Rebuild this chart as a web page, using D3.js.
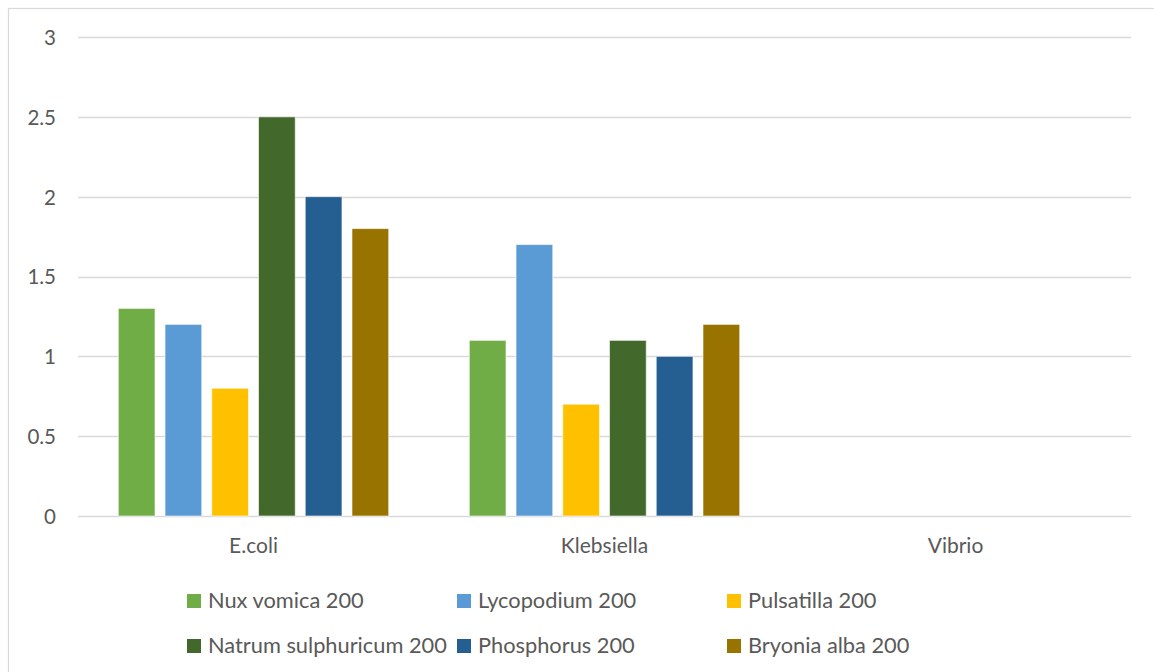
<!DOCTYPE html>
<html>
<head>
<meta charset="utf-8">
<script src="https://cdn.jsdelivr.net/npm/d3@7"></script>
<style>
  html, body { margin: 0; padding: 0; background: #fff; }
  svg { display: block; }
  text { font-family: Lato, "Open Sans", sans-serif; fill: #595959; }
</style>
</head>
<body>
<script>
// Bacterial strains on the x axis
const categories = ["E.coli", "Klebsiella", "Vibrio"];

// Remedies (one bar per remedy in each strain group)
const seriesNames = [
  "Nux vomica 200",
  "Lycopodium 200",
  "Pulsatilla 200",
  "Natrum sulphuricum 200",
  "Phosphorus 200",
  "Bryonia alba 200"
];

// Values per remedy, in category order
const nuxVomica   = [1.3, 1.1, 0];
const lycopodium  = [1.2, 1.7, 0];
const pulsatilla  = [0.8, 0.7, 0];
const natrumSulph = [2.5, 1.1, 0];
const phosphorus  = [2.0, 1.0, 0];
const bryonia     = [1.8, 1.2, 0];

const yTicks = [0, 0.5, 1, 1.5, 2, 2.5, 3];

const seriesValues = [nuxVomica, lycopodium, pulsatilla, natrumSulph, phosphorus, bryonia];
const colors = ["#70AD47", "#5B9BD5", "#FFC000", "#43682B", "#255E91", "#997300"];

const W = 1154, H = 672;
const plot = { left: 78, right: 1131, top: 37, bottom: 516 };

const svg = d3.select("body").append("svg")
  .attr("width", W).attr("height", H);

// Chart frame
svg.append("rect")
  .attr("x", 8.5).attr("y", 8.5)
  .attr("width", W).attr("height", H)
  .attr("fill", "none").attr("stroke", "#D9D9D9").attr("stroke-width", 1.2);

const x0 = d3.scaleBand().domain(categories)
  .range([plot.left, plot.right]).padding(0);

const x1 = d3.scaleBand().domain(seriesNames)
  .range([0, x0.bandwidth()])
  .paddingInner(0.214).paddingOuter(0.862);

const y = d3.scaleLinear().domain([0, 3]).range([plot.bottom, plot.top]);

// Horizontal gridlines
svg.append("g").selectAll("line").data(yTicks).join("line")
  .attr("x1", plot.left).attr("x2", plot.right)
  .attr("y1", d => Math.round(y(d)) + 0.5).attr("y2", d => Math.round(y(d)) + 0.5)
  .attr("stroke", "#D9D9D9").attr("stroke-width", d => d === 0 ? 1.6 : 1.4);

// Y axis labels
const yAxis = d3.axisLeft(y).tickValues(yTicks).tickSize(0).tickPadding(0)
  .tickFormat(d3.format("~g"));
const gy = svg.append("g").attr("transform", `translate(56,0)`).call(yAxis);
gy.select(".domain").remove();
gy.selectAll("text")
  .attr("font-family", "Lato, 'Open Sans', sans-serif")
  .attr("font-size", 20.5).attr("fill", "#595959").attr("dy", "0.36em");

// Bars
const groups = svg.append("g").selectAll("g").data(categories).join("g")
  .attr("transform", c => `translate(${x0(c)},0)`);

groups.selectAll("rect")
  .data((c, ci) => seriesNames.map((s, si) => ({ s, si, v: seriesValues[si][ci] })))
  .join("rect")
  .filter(d => d.v > 0)
  .attr("x", d => x1(d.s))
  .attr("y", d => y(d.v))
  .attr("width", x1.bandwidth())
  .attr("height", d => y(0) - y(d.v))
  .attr("fill", d => colors[d.si])
  .attr("stroke", "#ffffff").attr("stroke-opacity", 0.6).attr("stroke-width", 1);

// Category labels
const xAxis = d3.axisBottom(x0).tickSize(0).tickPadding(0);
const gx = svg.append("g").attr("transform", `translate(0,${plot.bottom})`).call(xAxis);
gx.select(".domain").remove();
gx.selectAll("text")
  .attr("font-family", "Lato, 'Open Sans', sans-serif")
  .attr("font-size", 21).attr("fill", "#595959")
  .attr("y", 37).attr("dy", 0);

// Legend: three columns, two rows
const legendX = [187, 457, 727];
const legendY = [601, 646];
const legend = svg.append("g").selectAll("g").data(seriesNames).join("g")
  .attr("transform", (d, i) => `translate(${legendX[i % 3]},${legendY[Math.floor(i / 3)]})`);
legend.append("rect")
  .attr("x", 0).attr("y", -7).attr("width", 14).attr("height", 14)
  .attr("fill", (d, i) => colors[i]);
legend.append("text")
  .attr("x", 21).attr("y", 7)
  .attr("font-size", 21.8)
  .text(d => d);
</script>
</body>
</html>
